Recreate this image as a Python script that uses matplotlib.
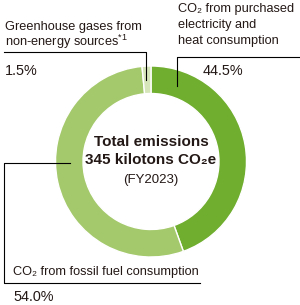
import matplotlib
matplotlib.use("Agg")
import matplotlib.pyplot as plt

plt.rcParams['font.family'] = ['Liberation Sans', 'DejaVu Sans']
plt.rcParams['mathtext.default'] = 'regular'

# donut data (clockwise from top)
shares = [44.5, 54.0, 1.5]
colors = ['#6fae2f', '#a4c96c', '#d6e6ba']
pct_labels = ['44.5%', '54.0%', '1.5%']

TXT = '#231815'
H = 305


def Y(y):
    # pixel row -> data y
    return H - y


fig = plt.figure(figsize=(3.0, 3.05), dpi=100)
ax = fig.add_axes([0, 0, 1, 1])

ax.pie(shares, colors=colors, startangle=90, counterclock=False,
       center=(151, Y(161.5)), radius=95.5,
       wedgeprops=dict(width=27.5, edgecolor='white', linewidth=1.0))

ax.set_xlim(0, 300)
ax.set_ylim(0, H)
ax.set_aspect('auto')
ax.axis('off')

# leader lines
lw = 0.8
ax.plot([4, 146, 146], [Y(52), Y(52), Y(80)], color='black', lw=lw)
ax.plot([300, 177, 177], [Y(57), Y(57), Y(86)], color='black', lw=lw)
ax.plot([70, 4, 4, 200], [Y(163), Y(163), Y(283), Y(283)], color='black', lw=lw)

fs = 9.2
pfs = 10.4
# labels
ax.text(5, Y(27), 'Greenhouse gases from', fontsize=fs, color=TXT, va='center')
ax.text(5, Y(42), 'non-energy sources$^{*1}$', fontsize=fs, color=TXT, va='center')
ax.text(5, Y(71), pct_labels[2], fontsize=pfs, color=TXT, va='center')

ax.text(178, Y(9), 'CO₂ from purchased', fontsize=fs, color=TXT, va='center')
ax.text(178, Y(25), 'electricity and', fontsize=fs, color=TXT, va='center')
ax.text(178, Y(41), 'heat consumption', fontsize=fs, color=TXT, va='center')
ax.text(203, Y(71), pct_labels[0], fontsize=pfs, color=TXT, va='center')

ax.text(13, Y(272), 'CO₂ from fossil fuel consumption', fontsize=fs, color=TXT, va='center')
ax.text(13, Y(297), pct_labels[1], fontsize=pfs, color=TXT, va='center')

# center text
ax.text(151, Y(142), 'Total emissions', fontsize=11, fontweight='bold',
        color=TXT, ha='center', va='center')
ax.text(151, Y(160), '345 kilotons CO₂e', fontsize=11, fontweight='bold',
        color=TXT, ha='center', va='center')
ax.text(151, Y(180), '(FY2023)', fontsize=9.5, color=TXT, ha='center', va='center')

fig.savefig('out.png', dpi=100)
